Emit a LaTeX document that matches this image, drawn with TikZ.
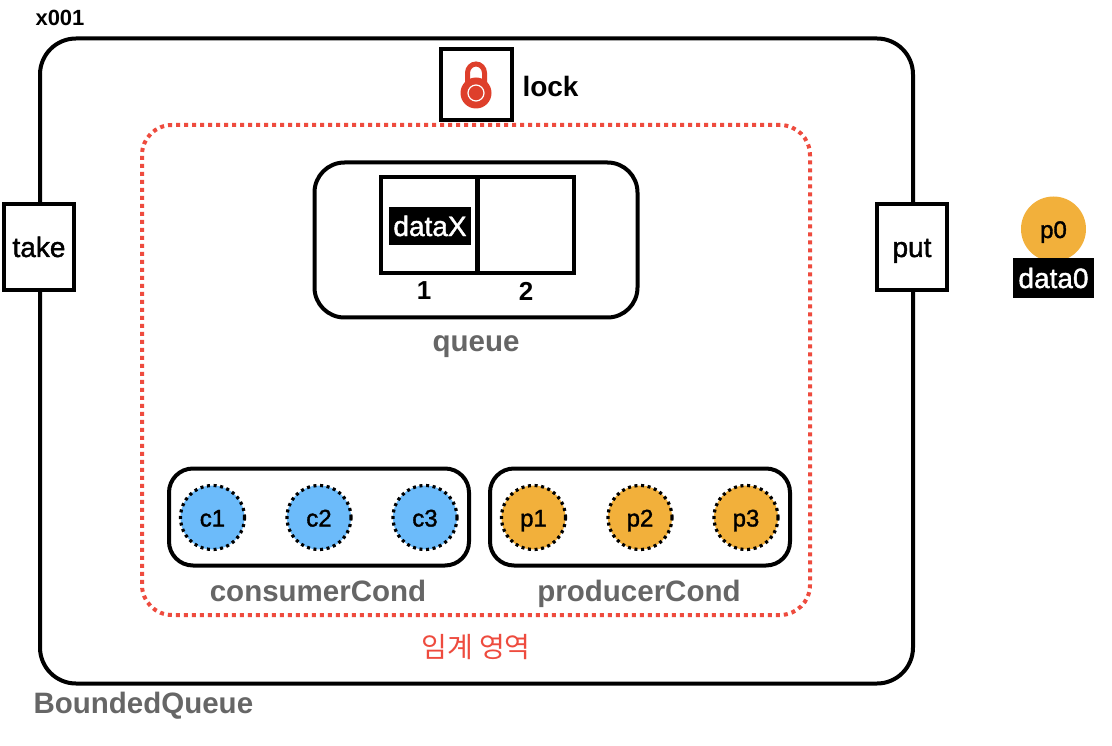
\documentclass[tikz,border=0pt]{standalone}
\usepackage{fontspec}
\setmainfont{Liberation Sans}
\newfontfamily\krfont{Noto Sans CJK KR}
\newfontfamily\medfont[FakeBold=1.5]{Liberation Sans}
\definecolor{lockred}{HTML}{DE3F2B}
\definecolor{critred}{HTML}{EE4B3E}
\definecolor{condblue}{HTML}{6CBBFA}
\definecolor{condorange}{HTML}{F2B03B}
\definecolor{labelgray}{HTML}{666666}
\tikzset{
  box/.style={draw=black,line width=4pt,rounded corners=#1,fill=white,inner sep=0pt},
  box/.default=24pt,
  port/.style={draw=black,line width=4pt,fill=white,inner sep=0pt,minimum width=70pt,minimum height=86pt,text height=22pt,text depth=2pt,font=\fontsize{28}{28}\selectfont\medfont},
  thread/.style={circle,draw=black,line width=3.2pt,dash pattern=on 3pt off 3.6pt,minimum size=64pt,inner sep=0pt,text height=18pt,text depth=0pt,font=\fontsize{24}{24}\selectfont\medfont},
  graylabel/.style={text=labelgray,text height=22pt,text depth=6pt,font=\fontsize{29.5}{30}\selectfont\bfseries},
  slot/.style={draw=black,line width=4pt,minimum size=96pt,inner sep=0pt},
  datatag/.style={fill=black,text=white,inner sep=0pt,font=\fontsize{28}{28}\selectfont\medfont}
}
\begin{document}
\begin{tikzpicture}[x=1pt,y=-1pt]
  \useasboundingbox (0,0) rectangle (1112,746);
  %% outer frame
  \node[box=36pt,minimum width=873pt,minimum height=645pt] (bounded) at (476.5,361) {};
  \node[anchor=west,font=\fontsize{22}{22}\selectfont\bfseries] (addr) at (32,18) {x001};
  \node[graylabel,anchor=west] (boundedlabel) at (30,705) {BoundedQueue};
  %% ports
  \node[port] (take) at (39,247) {take};
  \node[port] (put) at (912,247) {put};
  %% lock
  \node[draw=black,line width=4pt,fill=white,minimum size=71pt,inner sep=0pt] (lockbox) at (476,84.5) {};
  \draw[lockred,line width=5pt] (467.5,88) -- (467.5,73) arc (180:360:8.5 and 9) -- (484.5,88);
  \node[circle,fill=lockred,minimum size=31pt,inner sep=0pt] (lockbody) at (476,93) {};
  \node[circle,draw=white,line width=1.2pt,minimum size=16pt,inner sep=0pt] (lockring) at (476,93) {};
  \node[anchor=west,font=\fontsize{28}{28}\selectfont\bfseries] (locklabel) at (519,86) {lock};
  %% critical section
  \node[draw=critred,line width=4pt,dash pattern=on 4pt off 4pt,rounded corners=30pt,minimum width=668pt,minimum height=490pt,inner sep=0pt] (critical) at (476,370) {};
  \node[text=critred,font=\fontsize{28}{28}\selectfont\krfont] (criticallabel) at (476,647) {임계 영역};
  %% queue
  \node[box=30pt,minimum width=323pt,minimum height=155pt] (queuebox) at (476,240) {};
  \node[slot] (slot1) at (429,225) {};
  \node[slot] (slot2) at (526,225) {};
  \node[datatag,minimum width=82pt,minimum height=38pt] (datax) at (430,226) {dataX};
  \node[font=\fontsize{26}{26}\selectfont\bfseries] (idx1) at (424,291) {1};
  \node[font=\fontsize{26}{26}\selectfont\bfseries] (idx2) at (526,291) {2};
  \node[graylabel] (queuelabel) at (476,344) {queue};
  %% conditions
  \node[box,minimum width=300pt,minimum height=97pt] (consumerbox) at (319,517) {};
  \node[box,minimum width=300pt,minimum height=97pt] (producerbox) at (640,517) {};
  \foreach \name/\xc in {c1/212.5,c2/319,c3/425} {
    \node[thread,fill=condblue] (\name) at (\xc,517.5) {\name}; }
  \foreach \name/\xc in {p1/533.5,p2/640,p3/746} {
    \node[thread,fill=condorange] (\name) at (\xc,517.5) {\name}; }
  \node[graylabel] (consumerlabel) at (318,593) {consumerCond};
  \node[graylabel] (producerlabel) at (639,593) {producerCond};
  %% waiting producer
  \node[circle,fill=condorange,minimum size=65pt,inner sep=0pt,text height=18pt,text depth=0pt,font=\fontsize{24}{24}\selectfont\medfont] (p0) at (1053.5,229) {p0};
  \node[datatag,minimum width=81pt,minimum height=40pt] (data0) at (1053.5,278) {data0};
\end{tikzpicture}
\end{document}
